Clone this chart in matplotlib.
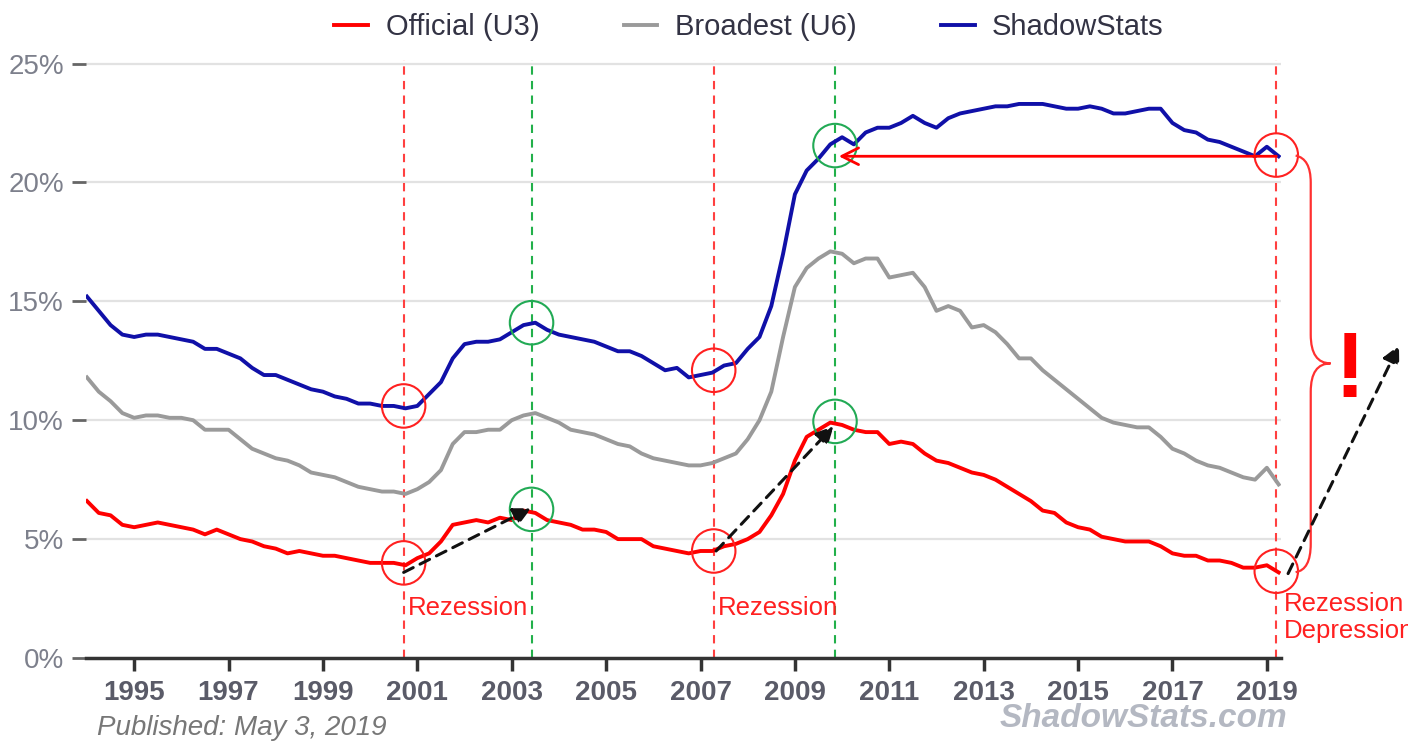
import matplotlib
matplotlib.use('Agg')
import matplotlib.pyplot as plt
import numpy as np
from matplotlib.path import Path
from matplotlib.patches import PathPatch

plt.rcParams['font.family'] = ['Liberation Sans', 'DejaVu Sans']

# quarterly readings, Jan 1994 .. Apr 2019
dates = np.arange(1994, 2019.26, 0.25)

u3 = [6.6, 6.1, 6.0, 5.6,
      5.5, 5.6, 5.7, 5.6,
      5.5, 5.4, 5.2, 5.4,
      5.2, 5.0, 4.9, 4.7,
      4.6, 4.4, 4.5, 4.4,
      4.3, 4.3, 4.2, 4.1,
      4.0, 4.0, 4.0, 3.9,
      4.2, 4.4, 4.9, 5.6,
      5.7, 5.8, 5.7, 5.9,
      5.8, 6.2, 6.1, 5.8,
      5.7, 5.6, 5.4, 5.4,
      5.3, 5.0, 5.0, 5.0,
      4.7, 4.6, 4.5, 4.4,
      4.5, 4.5, 4.7, 4.8,
      5.0, 5.3, 6.0, 6.9,
      8.3, 9.3, 9.6, 9.9,
      9.8, 9.6, 9.5, 9.5,
      9.0, 9.1, 9.0, 8.6,
      8.3, 8.2, 8.0, 7.8,
      7.7, 7.5, 7.2, 6.9,
      6.6, 6.2, 6.1, 5.7,
      5.5, 5.4, 5.1, 5.0,
      4.9, 4.9, 4.9, 4.7,
      4.4, 4.3, 4.3, 4.1,
      4.1, 4.0, 3.8, 3.8,
      3.9, 3.6]

u6 = [11.8, 11.2, 10.8, 10.3,
      10.1, 10.2, 10.2, 10.1,
      10.1, 10.0, 9.6, 9.6,
      9.6, 9.2, 8.8, 8.6,
      8.4, 8.3, 8.1, 7.8,
      7.7, 7.6, 7.4, 7.2,
      7.1, 7.0, 7.0, 6.9,
      7.1, 7.4, 7.9, 9.0,
      9.5, 9.5, 9.6, 9.6,
      10.0, 10.2, 10.3, 10.1,
      9.9, 9.6, 9.5, 9.4,
      9.2, 9.0, 8.9, 8.6,
      8.4, 8.3, 8.2, 8.1,
      8.1, 8.2, 8.4, 8.6,
      9.2, 10.0, 11.2, 13.5,
      15.6, 16.4, 16.8, 17.1,
      17.0, 16.6, 16.8, 16.8,
      16.0, 16.1, 16.2, 15.6,
      14.6, 14.8, 14.6, 13.9,
      14.0, 13.7, 13.2, 12.6,
      12.6, 12.1, 11.7, 11.3,
      10.9, 10.5, 10.1, 9.9,
      9.8, 9.7, 9.7, 9.3,
      8.8, 8.6, 8.3, 8.1,
      8.0, 7.8, 7.6, 7.5,
      8.0, 7.3]

shadow = [15.2, 14.6, 14.0, 13.6,
          13.5, 13.6, 13.6, 13.5,
          13.4, 13.3, 13.0, 13.0,
          12.8, 12.6, 12.2, 11.9,
          11.9, 11.7, 11.5, 11.3,
          11.2, 11.0, 10.9, 10.7,
          10.7, 10.6, 10.6, 10.5,
          10.6, 11.1, 11.6, 12.6,
          13.2, 13.3, 13.3, 13.4,
          13.7, 14.0, 14.1, 13.8,
          13.6, 13.5, 13.4, 13.3,
          13.1, 12.9, 12.9, 12.7,
          12.4, 12.1, 12.2, 11.8,
          11.9, 12.0, 12.3, 12.4,
          13.0, 13.5, 14.8, 17.0,
          19.5, 20.5, 21.0, 21.6,
          21.9, 21.6, 22.1, 22.3,
          22.3, 22.5, 22.8, 22.5,
          22.3, 22.7, 22.9, 23.0,
          23.1, 23.2, 23.2, 23.3,
          23.3, 23.3, 23.2, 23.1,
          23.1, 23.2, 23.1, 22.9,
          22.9, 23.0, 23.1, 23.1,
          22.5, 22.2, 22.1, 21.8,
          21.7, 21.5, 21.3, 21.1,
          21.5, 21.1]

series_names = ['Official (U3)', 'Broadest (U6)', 'ShadowStats']
year_ticks = list(range(1995, 2020, 2))
pct_ticks = [0, 5, 10, 15, 20, 25]

recessions = [2000.71, 2007.28, 2019.2]
peaks = [2003.42, 2009.85]

# circle marks
red_circles = [(2000.71, 10.6), (2000.71, 4.0), (2007.28, 12.1),
               (2007.28, 4.5), (2019.2, 21.15), (2019.2, 3.65)]
green_circles = [(2003.42, 14.1), (2003.42, 6.25), (2009.85, 21.55),
                 (2009.85, 9.95)]


def main():
    fig = plt.figure(figsize=(14.08, 7.42), dpi=100)
    ax = fig.add_axes([0.0611, 0.1132, 0.8487, 0.806])

    ax.set_xlim(1993.98, 2019.3)
    ax.set_ylim(0, 25.15)

    for y in pct_ticks[1:]:
        ax.axhline(y, color='#e2e2e2', lw=1.6, zorder=0)

    ax.plot(dates, u3, color='#ff0000', lw=2.8, label=series_names[0], zorder=3)
    ax.plot(dates, u6, color='#9a9a9a', lw=2.8, label=series_names[1], zorder=3)
    ax.plot(dates, shadow, color='#1010a8', lw=2.8, label=series_names[2], zorder=3)

    for x in recessions:
        ax.axvline(x, color='#ff4040', lw=1.5, ls=(0, (4, 3)), zorder=2)
    for x in peaks:
        ax.axvline(x, color='#22b04a', lw=1.5, ls=(0, (4, 3)), zorder=2)

    rx, ry = zip(*red_circles)
    ax.scatter(rx, ry, s=980, facecolors='none', edgecolors='#ff2020',
               linewidths=1.5, zorder=5, clip_on=False)
    gx, gy = zip(*green_circles)
    ax.scatter(gx, gy, s=980, facecolors='none', edgecolors='#22aa55',
               linewidths=1.5, zorder=5)

    # dashed black arrows
    arrows = [((2000.71, 3.6), (2003.41, 6.3)),
              ((2007.33, 4.5), (2009.82, 9.75)),
              ((2019.45, 3.55), (2021.8, 13.15))]
    for start, end in arrows:
        ax.annotate('', xy=end, xytext=start, annotation_clip=False,
                    arrowprops=dict(arrowstyle='-|>', color='#111111', lw=2.2,
                                    linestyle=(0, (3.5, 2.5)),
                                    mutation_scale=26, shrinkA=0, shrinkB=0),
                    zorder=6)

    # red arrow back to 2009
    ax.annotate('', xy=(2009.93, 21.1), xytext=(2019.2, 21.1),
                arrowprops=dict(arrowstyle='->', color='#ff0000', lw=2,
                                mutation_scale=30, shrinkA=0, shrinkB=0),
                zorder=6)

    # curly brace right of the plot
    verts = [(2019.61, 21.13), (2019.93, 21.0), (2019.93, 20.0),
             (2019.93, 13.6),
             (2019.93, 12.39), (2020.35, 12.39),
             (2019.93, 12.39), (2019.93, 11.2),
             (2019.93, 4.8),
             (2019.93, 3.7), (2019.61, 3.61)]
    codes = [Path.MOVETO, Path.CURVE3, Path.CURVE3, Path.LINETO,
             Path.CURVE3, Path.CURVE3, Path.CURVE3, Path.CURVE3,
             Path.LINETO, Path.CURVE3, Path.CURVE3]
    brace = PathPatch(Path(verts, codes), facecolor='none', edgecolor='#ff3030',
                      lw=1.6, clip_on=False, zorder=5)
    ax.add_patch(brace)
    ax.text(2020.75, 12.0, '!', color='#ff0000', fontsize=66,
            fontweight='bold', ha='center', va='center', clip_on=False)

    ax.text(2000.8, 2.1, 'Rezession', color='#ff2020', fontsize=18.5,
            ha='left', va='center')
    ax.text(2007.37, 2.1, 'Rezession', color='#ff2020', fontsize=18.5,
            ha='left', va='center')
    ax.text(2019.37, 1.7, 'Rezession\nDepression', color='#ff2020',
            fontsize=18.5, ha='left', va='center', linespacing=1.15,
            clip_on=False)

    # axes styling
    for side in ['top', 'right', 'left']:
        ax.spines[side].set_visible(False)
    ax.spines['bottom'].set_color('#333333')
    ax.spines['bottom'].set_linewidth(2.5)
    ax.set_xticks(year_ticks)
    ax.set_xticklabels([str(y) for y in year_ticks], fontsize=20,
                       fontweight='bold', color='#5a5b68')
    ax.tick_params(axis='x', length=9, width=2.5, color='#333333', pad=7)
    ax.set_yticks(pct_ticks)
    ax.set_yticklabels([f'{p}%' for p in pct_ticks], fontsize=20,
                       color='#7d808c')
    ax.tick_params(axis='y', length=10, width=2, color='#666666', pad=6)

    fig.legend(loc='upper center', bbox_to_anchor=(0.532, 1.018), ncol=3,
               frameon=False, fontsize=21, handlelength=1.15,
               handletextpad=0.6, columnspacing=2.9,
               labelcolor='#333344')

    fig.text(0.069, 0.019, 'Published: May 3, 2019', fontsize=20,
             style='italic', color='#777777', va='center')
    fig.text(0.71, 0.031, 'ShadowStats.com', fontsize=24, style='italic',
             fontweight='bold', color='#b4b8c2', va='center')

    fig.savefig('out.png', dpi=100)


if __name__ == '__main__':
    main()
